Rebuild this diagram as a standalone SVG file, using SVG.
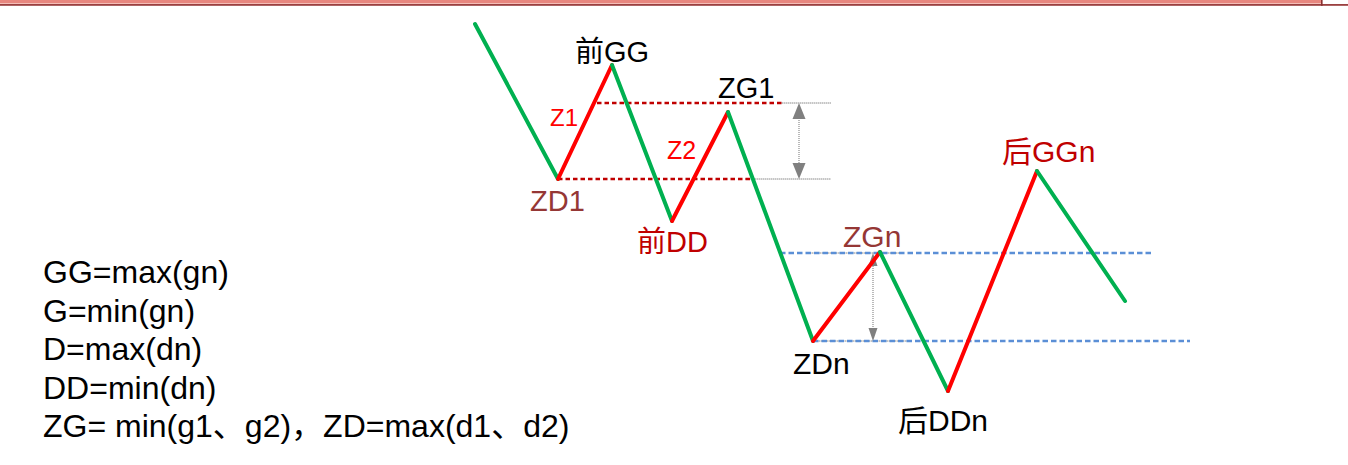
<svg xmlns="http://www.w3.org/2000/svg" width="1348" height="465" viewBox="0 0 1348 465">
  <style>
    text { font-family: "Liberation Sans", "Noto Sans CJK SC", sans-serif; }
    .g { stroke: #00b050; stroke-width: 4; stroke-linecap: round; fill: none; }
    .r { stroke: #ff0000; stroke-width: 4; stroke-linecap: round; fill: none; }
    .rd { stroke: #c00000; stroke-width: 2.5; stroke-dasharray: 4.5 3; fill: none; }
    .bd { stroke: #5b8fd6; stroke-width: 2.5; stroke-dasharray: 5.5 3; fill: none; }
    .gr { stroke: #8c8c8c; stroke-width: 1; stroke-dasharray: 1.5 0.5; fill: none; }
    .gd { stroke: #8c8c8c; stroke-width: 1.2; stroke-dasharray: 1 1; fill: none; }
    .ah { fill: #808080; }
    .blk { fill: #000000; }
    .drd { fill: #c00000; }
    .brn { fill: #953735; }
    .red { fill: #ff0000; }
    .note { font-size: 32px; fill: #000000; }
  </style>

  <g id="topbar">
    <rect x="0" y="0" width="1321" height="3.3" fill="#e8877f"/>
    <rect x="0" y="3.3" width="1321" height="0.8" fill="#f2b3ac"/>
    <rect x="0" y="4" width="1348" height="1.8" fill="#9b4040"/>
    <rect x="1321" y="0" width="1.6" height="5.8" fill="#8a3030"/>
  </g>

  <g id="guides">
    <line class="gr" x1="778" y1="103" x2="831" y2="103"/>
    <line class="gr" x1="745" y1="179" x2="831" y2="179"/>
    <line class="rd" x1="597" y1="103" x2="782" y2="103"/>
    <line class="rd" x1="558" y1="179" x2="750" y2="179"/>
    <line class="gr" x1="806" y1="253" x2="903" y2="253"/>
    <line class="gr" x1="813" y1="341" x2="910" y2="341"/>
    <line class="bd" x1="780" y1="253" x2="1152" y2="253"/>
    <line class="bd" x1="813" y1="341" x2="1190" y2="341"/>
  </g>

  <g id="measure-arrows">
    <line class="gd" x1="799" y1="116" x2="799" y2="166"/>
    <polygon class="ah" points="799,103 792.5,119 805.5,119"/>
    <polygon class="ah" points="799,179 792.5,163 805.5,163"/>
    <line class="gd" x1="873" y1="264" x2="873" y2="330"/>
    <polygon class="ah" points="873,253 868.5,266 877.5,266"/>
    <polygon class="ah" points="873,341 868.5,328 877.5,328"/>
  </g>

  <g id="connectors">
    <line class="g" x1="475" y1="24" x2="558" y2="179"/>
    <line class="r" x1="558" y1="179" x2="612" y2="65"/>
    <line class="g" x1="612" y1="65" x2="672" y2="221"/>
    <line class="r" x1="672" y1="221" x2="728" y2="112"/>
    <line class="g" x1="728" y1="112" x2="813" y2="341"/>
    <line class="r" x1="813" y1="341" x2="880" y2="252"/>
    <line class="g" x1="880" y1="252" x2="948" y2="391"/>
    <line class="r" x1="948" y1="391" x2="1037" y2="171"/>
    <line class="g" x1="1037" y1="171" x2="1125" y2="301"/>
  </g>

  <g id="node-qianGG"><text class="blk" x="575" y="62" font-size="29">前GG</text></g>
  <g id="node-ZG1"><text class="blk" x="718" y="98" font-size="29">ZG1</text></g>
  <g id="node-Z1"><text class="red" x="550" y="126" font-size="24">Z1</text></g>
  <g id="node-Z2"><text class="red" x="667" y="159" font-size="25">Z2</text></g>
  <g id="node-ZD1"><text class="brn" x="530" y="211" font-size="29">ZD1</text></g>
  <g id="node-qianDD"><text class="drd" x="637" y="252" font-size="29">前DD</text></g>
  <g id="node-ZGn"><text class="brn" x="843" y="247" font-size="30">ZGn</text></g>
  <g id="node-ZDn"><text class="blk" x="793" y="374" font-size="30">ZDn</text></g>
  <g id="node-houDDn"><text class="blk" x="898" y="431" font-size="30">后DDn</text></g>
  <g id="node-houGGn"><text class="drd" x="1002" y="162" font-size="30">后GGn</text></g>

  <g id="notes">
    <text class="note" x="43" y="283">GG=max(gn)</text>
    <text class="note" x="43" y="321.5">G=min(gn)</text>
    <text class="note" x="43" y="360">D=max(dn)</text>
    <text class="note" x="43" y="398.5">DD=min(dn)</text>
    <text class="note" x="43" y="437">ZG= min(g1、g2)，ZD=max(d1、d2)</text>
  </g>
</svg>
